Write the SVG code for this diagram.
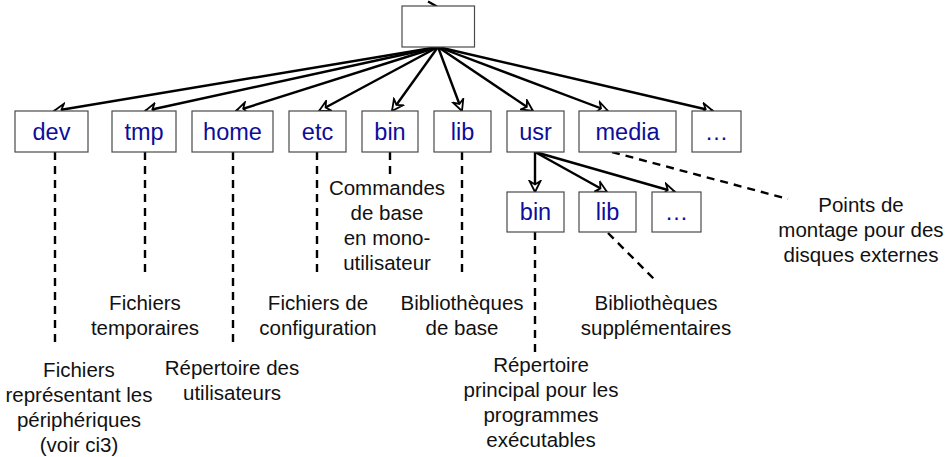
<svg xmlns="http://www.w3.org/2000/svg" width="952" height="457" viewBox="0 0 952 457">
<style>
.box{fill:#fff;stroke:#4a4a4a;stroke-width:1.2}
.lbl{font-family:"Liberation Sans",Arial,sans-serif;font-size:23.5px;fill:#0d0d9a;text-anchor:middle}
.note{font-family:"Liberation Sans",Arial,sans-serif;font-size:20.5px;fill:#111;text-anchor:middle}
.arr{stroke:#000;stroke-width:2.4;fill:none;marker-end:url(#ah)}
.dash{stroke:#000;stroke-width:2.4;fill:none;stroke-dasharray:8 6}
</style>
<defs>
<marker id="ah" viewBox="-12 -7 14 14" refX="0" refY="0" markerWidth="14" markerHeight="14" markerUnits="userSpaceOnUse" orient="auto">
<path d="M0,0 L-11,-5.5 L-7.5,0 L-11,5.5 Z" fill="#fff" stroke="#000" stroke-width="1.8" stroke-linejoin="miter"/>
</marker>
</defs>
<rect width="952" height="457" fill="#fff"/>
<g id="connectors">
<line x1="428" y1="1.5" x2="437" y2="6.5" stroke="#000" stroke-width="2.2"/>
<line class="arr" x1="438" y1="47" x2="54" y2="111"/>
<line class="arr" x1="438" y1="47" x2="145" y2="111"/>
<line class="arr" x1="438" y1="47" x2="236" y2="111"/>
<line class="arr" x1="438" y1="47" x2="319" y2="111"/>
<line class="arr" x1="438" y1="47" x2="392" y2="111"/>
<line class="arr" x1="438" y1="47" x2="462" y2="111"/>
<line class="arr" x1="438" y1="47" x2="533" y2="111"/>
<line class="arr" x1="438" y1="47" x2="608" y2="111"/>
<line class="arr" x1="438" y1="47" x2="713" y2="111"/>
<line class="arr" x1="535" y1="152" x2="535" y2="192"/>
<line class="arr" x1="535" y1="152" x2="607" y2="192"/>
<line class="arr" x1="535" y1="152" x2="675" y2="192"/>
<line class="dash" x1="55" y1="152" x2="55" y2="345"/>
<line class="dash" x1="145" y1="152" x2="145" y2="276"/>
<line class="dash" x1="233" y1="152" x2="233" y2="346"/>
<line class="dash" x1="317" y1="152" x2="317" y2="278"/>
<line class="dash" x1="390" y1="152" x2="390" y2="179"/>
<line class="dash" x1="462" y1="152" x2="462" y2="278"/>
<line class="dash" x1="535" y1="232" x2="535" y2="356"/>
<line class="dash" x1="608" y1="233" x2="655" y2="280"/>
<line class="dash" x1="612" y1="152" x2="788" y2="199"/>
</g>
<g id="root"><rect class="box" x="402" y="6" width="72.5" height="41"/></g>
<g id="dev"><rect class="box" x="15" y="111" width="73" height="41"/><text class="lbl" x="51.5" y="140">dev</text></g>
<g id="tmp"><rect class="box" x="112" y="111" width="64" height="41"/><text class="lbl" x="144" y="140">tmp</text></g>
<g id="home"><rect class="box" x="192" y="111" width="81" height="41"/><text class="lbl" x="232.5" y="140">home</text></g>
<g id="etc"><rect class="box" x="289" y="111" width="57" height="41"/><text class="lbl" x="317.5" y="140">etc</text></g>
<g id="bin"><rect class="box" x="362" y="111" width="56" height="41"/><text class="lbl" x="390" y="140">bin</text></g>
<g id="lib"><rect class="box" x="434" y="111" width="57" height="41"/><text class="lbl" x="462.5" y="140">lib</text></g>
<g id="usr"><rect class="box" x="507" y="111" width="57" height="41"/><text class="lbl" x="535.5" y="140">usr</text></g>
<g id="media"><rect class="box" x="579" y="111" width="97" height="41"/><text class="lbl" x="627.5" y="140">media</text></g>
<g id="more"><rect class="box" x="692" y="111" width="49" height="41"/><text class="lbl" x="716.5" y="140">…</text></g>
<g id="usr-bin"><rect class="box" x="507" y="192" width="57" height="40"/><text class="lbl" x="535.5" y="220">bin</text></g>
<g id="usr-lib"><rect class="box" x="579" y="192" width="57" height="40"/><text class="lbl" x="607.5" y="220">lib</text></g>
<g id="usr-more"><rect class="box" x="652" y="192" width="49" height="40"/><text class="lbl" x="676.5" y="220">…</text></g>
<g id="notes">
<text class="note" x="79" y="377">Fichiers</text>
<text class="note" x="79" y="402">représentant les</text>
<text class="note" x="79" y="427">périphériques</text>
<text class="note" x="79" y="452">(voir ci3)</text>
<text class="note" x="145" y="310">Fichiers</text>
<text class="note" x="145" y="335">temporaires</text>
<text class="note" x="232" y="375">Répertoire des</text>
<text class="note" x="232" y="400">utilisateurs</text>
<text class="note" x="318" y="310">Fichiers de</text>
<text class="note" x="318" y="335">configuration</text>
<text class="note" x="387" y="195">Commandes</text>
<text class="note" x="387" y="220">de base</text>
<text class="note" x="387" y="245">en mono-</text>
<text class="note" x="387" y="270">utilisateur</text>
<text class="note" x="462" y="310">Bibliothèques</text>
<text class="note" x="462" y="335">de base</text>
<text class="note" x="541" y="372">Répertoire</text>
<text class="note" x="541" y="397">principal pour les</text>
<text class="note" x="541" y="422">programmes</text>
<text class="note" x="541" y="447">exécutables</text>
<text class="note" x="656" y="310">Bibliothèques</text>
<text class="note" x="656" y="335">supplémentaires</text>
<text class="note" x="861" y="212">Points de</text>
<text class="note" x="861" y="237">montage pour des</text>
<text class="note" x="861" y="262">disques externes</text>
</g>
</svg>
